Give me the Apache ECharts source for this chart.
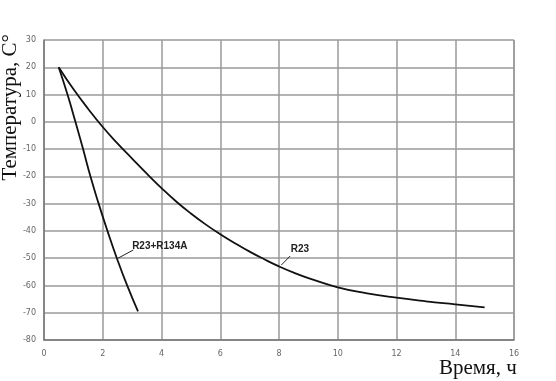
<!DOCTYPE html>
<html>
<head>
<meta charset="UTF-8">
<title>chart</title>
<script src="https://cdn.jsdelivr.net/npm/echarts@6/dist/echarts.min.js"></script>
<style>
	html, body { margin: 0; padding: 0; background: #fff; }
	#main { width: 556px; height: 381px; }
</style>
</head>
<body>
<div id="main"></div>
<script>
	// R23
	var r23 = [[0.5, 20], [1, 12], [1.5, 4.8], [2, -1.9], [2.5, -7.9], [3, -13.5], [3.5, -19],
		[4, -24.3], [4.5, -29.2], [5, -33.6], [5.5, -37.6], [6, -41.2], [6.5, -44.5], [7, -47.6],
		[7.5, -50.4], [8, -53], [8.5, -55.3], [9, -57.3], [10, -60.7], [11, -62.9], [12, -64.5],
		[13, -65.8], [14, -66.9], [15, -68]];
	// R23+R134A
	var r23mix = [[0.5, 20], [0.8, 10], [1.07, 0], [1.33, -10], [1.58, -20], [1.86, -30],
		[2.16, -40], [2.48, -50], [2.83, -60], [3.2, -69.5]];

	var yTitle = 'Температура, C°';
	var xTitle = 'Время, ч';

	var myChart = echarts.init(document.getElementById('main'));

	var tickLabel = { color: '#666', fontSize: 8, fontFamily: 'DejaVu Sans' };
	var tagLabel = { color: '#222', fontSize: 10, fontWeight: 'bold', fontFamily: 'Liberation Sans' };

	var option = {
		animation: false,
		grid: { left: 44, right: 42, top: 40, bottom: 41 },
		xAxis: {
			type: 'value', min: 0, max: 16, interval: 2,
			axisLine: { onZero: false, lineStyle: { color: '#777', width: 1.5 } },
			axisTick: { show: false },
			axisLabel: Object.assign({ margin: 10 }, tickLabel),
			splitLine: { lineStyle: { color: '#9a9a9a', width: 1.5 } }
		},
		yAxis: {
			type: 'value', min: -80, max: 30, interval: 10,
			axisLine: { show: true, lineStyle: { color: '#777', width: 1.5 } },
			axisTick: { show: false },
			axisLabel: Object.assign({ margin: 8 }, tickLabel),
			splitLine: { lineStyle: { color: '#9a9a9a', width: 1.5 } }
		},
		graphic: [
			{ type: 'line', shape: { x1: 514, y1: 40, x2: 514, y2: 340 }, style: { stroke: '#9a9a9a', lineWidth: 1.5 } },
			{ type: 'text', left: 0, top: 34, rotation: Math.PI / 2,
				style: { text: yTitle, fill: '#111', font: '21px "Liberation Serif"' } },
			{ type: 'text', left: 439, top: 358,
				style: { text: xTitle, fill: '#111', font: '21px "Liberation Serif"' } }
		],
		series: [{
			name: 'R23', type: 'line', data: r23, smooth: true, showSymbol: false,
			lineStyle: { color: '#111', width: 1.8 },
			markLine: {
				silent: true, symbol: 'none', label: { show: false },
				lineStyle: { color: '#222', width: 1, type: 'solid' },
				data: [[{ coord: [8.08, -52.5] }, { coord: [8.38, -49.2] }]]
			},
			markPoint: {
				symbolSize: 0,
				label: Object.assign({ position: 'right', distance: 0, formatter: 'R23' }, tagLabel),
				data: [{ coord: [8.4, -46.6] }]
			}
		}, {
			name: 'R23+R134A', type: 'line', data: r23mix, smooth: true, showSymbol: false,
			lineStyle: { color: '#111', width: 1.8 },
			markLine: {
				silent: true, symbol: 'none', label: { show: false },
				lineStyle: { color: '#222', width: 1, type: 'solid' },
				data: [[{ coord: [2.52, -50] }, { coord: [3.04, -47] }]]
			},
			markPoint: {
				symbolSize: 0,
				label: Object.assign({ position: 'right', distance: 0, formatter: 'R23+R134A' }, tagLabel),
				data: [{ coord: [3.0, -45.6] }]
			}
		}]
	};
	myChart.setOption(option);
</script>
</body>
</html>
